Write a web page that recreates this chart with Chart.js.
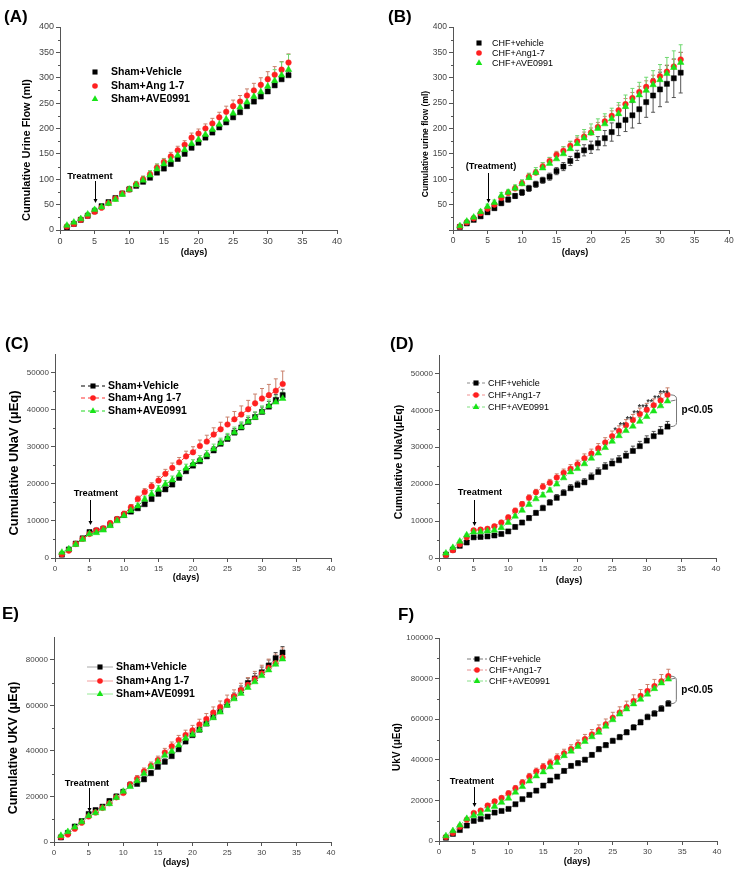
<!DOCTYPE html>
<html>
<head>
<meta charset="utf-8">
<script src="https://cdn.jsdelivr.net/npm/chart.js@4.4.1/dist/chart.umd.min.js"></script>
<style>
body { margin: 0; background: #fff; width: 740px; height: 872px; position: relative; overflow: hidden; font-family: 'Liberation Sans', Arial, sans-serif; }
.panel { position: absolute; }
.lbl { position: absolute; font-weight: bold; font-size: 17px; line-height: 17px; }
</style>
</head>
<body>
<div class="panel" style="left:0;top:0;width:370px;height:290px"><canvas id="chartA"></canvas></div>
<div class="panel" style="left:370px;top:0;width:370px;height:290px"><canvas id="chartB"></canvas></div>
<div class="panel" style="left:0;top:290px;width:370px;height:310px"><canvas id="chartC"></canvas></div>
<div class="panel" style="left:370px;top:290px;width:370px;height:310px"><canvas id="chartD"></canvas></div>
<div class="panel" style="left:0;top:600px;width:370px;height:272px"><canvas id="chartE"></canvas></div>
<div class="panel" style="left:370px;top:600px;width:370px;height:272px"><canvas id="chartF"></canvas></div>
<div class="lbl" style="left:4px;top:8px">(A)</div>
<div class="lbl" style="left:388px;top:8px">(B)</div>
<div class="lbl" style="left:5px;top:335px">(C)</div>
<div class="lbl" style="left:390px;top:335px">(D)</div>
<div class="lbl" style="left:2px;top:605px">E)</div>
<div class="lbl" style="left:398px;top:606px">F)</div>

<script>
// days of the protocol
const days = [1,2,3,4,5,6,7,8,9,10,11,12,13,14,15,16,17,18,19,20,21,22,23,24,25,26,27,28,29,30,31,32,33];

// tick labels
const xTicks = [0,5,10,15,20,25,30,35,40];
const yTicksFlow = [0,50,100,150,200,250,300,350,400];
const yTicksNa = [0,10000,20000,30000,40000,50000];
const yTicksShamK = [0,20000,40000,60000,80000];
const yTicksChfK = [0,20000,40000,60000,80000,100000];

// (A) cumulative urine flow, sham (ml)
const shamVehFlow = [5,12,20,28,37,47,55,63,72,80,87,95,103,113,121,130,140,150,162,172,182,192,202,212,222,232,244,253,263,273,285,297,305];
const shamAngFlow = [7,12,20,28,36,44,53,62,72,80,90,100,110,123,134,145,157,168,182,190,200,210,222,233,244,253,265,275,286,297,306,316,330];
const shamAveFlow = [9,15,22,31,40,45,52,60,70,80,89,98,108,120,130,138,147,158,170,178,188,198,208,218,230,242,252,263,272,283,294,305,316];
const errShamVehFlow = [1,1,2,2,2,2,2,3,3,3,3,3,3,4,4,4,4,4,5,5,5,5,5,5,6,6,6,6,6,7,7,7,7];
const errShamAngFlow = [1,1,2,2,3,3,3,4,4,5,5,6,6,7,7,8,8,8,9,9,9,10,10,11,12,12,13,14,14,15,16,16,17];
const errShamAveFlow = [2,2,3,3,4,4,4,5,5,6,7,8,9,10,10,10,10,10,10,11,11,11,12,12,13,14,15,16,17,19,22,26,30];

// (B) cumulative urine flow, CHF (ml)
const chfVehFlow = [6,13,20,27,35,43,53,60,67,74,82,90,98,105,116,125,136,147,157,163,171,181,193,206,217,226,238,252,265,277,288,299,310];
const chfAngFlow = [7,15,23,33,42,50,63,73,82,92,105,113,125,136,148,156,166,175,184,192,203,214,225,236,248,260,272,282,293,303,312,322,336];
const chfAveFlow = [8,17,25,36,46,54,68,74,82,91,103,113,122,131,140,150,160,170,181,191,200,209,219,229,243,255,266,275,286,296,308,320,330];
const errChfVehFlow = [2,2,3,3,4,4,5,5,5,6,6,6,6,7,7,8,9,10,11,12,13,15,18,20,23,25,28,30,33,34,36,38,40];
const errChfAngFlow = [2,2,3,3,4,4,5,5,5,6,6,6,7,7,7,8,8,8,9,9,9,10,10,10,11,11,11,12,12,13,13,14,14];
const errChfAveFlow = [2,3,3,4,5,5,6,6,7,8,9,10,11,12,13,14,15,16,17,18,19,20,21,22,23,24,25,26,28,30,32,33,35];

// (C) cumulative UNaV, sham (uEq)
const shamVehNa = [900,2300,3900,5300,7000,7400,7900,9000,10400,11600,12500,13400,14500,15900,17300,18500,19800,21600,23400,24900,26100,27400,29000,30800,32100,33800,35200,36700,38000,39400,40800,42600,43900];
const shamAngNa = [1000,2000,3800,5200,6500,7500,8000,9400,10500,11900,13700,15900,17800,19300,20900,22700,24300,25800,27400,28500,30200,31400,33300,34700,36000,37400,38700,40100,41700,43000,43900,45100,46900];
const shamAveNa = [1500,2400,3600,5000,6500,6800,7500,8700,10000,11400,12800,14000,15800,17200,18500,19900,21000,22500,24200,25300,26400,27800,29400,31000,32300,33900,35300,36800,37900,39400,41000,42000,43000];
const errShamVehNa = [200,200,300,300,400,400,400,500,500,500,600,600,600,600,700,700,700,800,800,800,900,900,1000,1000,1100,1100,1200,1200,1300,1300,1400,1500,1600];
const errShamAngNa = [200,300,300,400,400,500,500,600,600,700,700,800,900,1000,1100,1200,1300,1300,1400,1500,1600,1700,1800,1900,2000,2100,2300,2400,2500,2700,2900,3200,3500];
const errShamAveNa = [200,300,300,400,400,400,500,500,600,600,700,800,900,1000,1000,1000,1100,1100,1100,1200,1200,1200,1300,1300,1300,1400,1400,1500,1500,1600,1600,1700,1700];

// (D) cumulative UNaV, CHF (uEq)
const chfVehNa = [900,2250,3300,4200,5600,5700,5850,6100,6500,7200,8400,9600,10800,12200,13500,15000,16300,17600,18900,19800,20500,21900,23300,24700,25600,26500,27700,29000,30300,31800,33000,34200,35600];
const chfAngNa = [800,2100,3700,5600,7500,7700,7900,8600,9600,11000,12800,14600,16300,17800,19300,20400,21800,23100,24200,25400,27000,28300,29700,31300,33000,34400,36000,37400,39000,40200,41400,42700,44200];
const chfAveNa = [1300,2800,4500,6200,7000,7100,7300,7500,8200,9600,11300,12900,14500,16000,17000,18300,20000,21700,23300,24200,25500,27000,28400,29900,31600,33100,34500,35700,37000,38300,39800,41200,42500];
const errChfVehNa = [200,300,300,400,400,400,400,500,500,500,600,600,700,700,800,800,900,900,1000,1000,1000,1100,1100,1100,1200,1200,1200,1300,1300,1300,1300,1400,1400];
const errChfAngNa = [200,300,300,400,400,500,500,500,600,600,700,700,800,800,900,900,1000,1000,1100,1100,1200,1200,1300,1300,1400,1400,1500,1500,1600,1700,1700,1800,1900];
const errChfAveNa = [200,200,300,300,300,400,400,400,500,500,500,600,600,600,700,700,700,800,800,800,900,900,900,1000,1000,1000,1100,1100,1100,1200,1200,1200,1300];
const starDays = [25,26,27,28,29,30,31,32];
const starLabels = ['*','**','**','**','***','**','**','***'];

// (E) cumulative UKV, sham (uEq)
const shamVehK = [2000,4000,6800,9200,12300,14000,15500,18000,20000,22000,25000,25500,27500,30200,33000,35200,37700,40700,44100,46900,49300,52000,55000,57500,60300,63500,66500,69800,71800,74500,77500,80700,83200];
const shamAngK = [2200,3300,5800,8500,11200,13000,15000,17000,19600,21500,25200,27800,31000,33500,36000,39300,42000,44800,47000,49000,51600,54000,56800,59300,61800,64000,66700,69000,71500,74000,76500,78500,81000];
const shamAveK = [2800,4500,6500,8800,11500,12800,14800,16800,19500,22200,24300,26800,30000,33000,35300,38000,39800,42500,45500,47200,49200,51800,54500,57000,60000,62800,65200,67800,70300,73000,75500,78000,80300];
const errShamVehK = [300,400,500,600,700,800,800,900,1000,1000,1100,1100,1200,1200,1300,1300,1400,1400,1500,1500,1600,1600,1700,1700,1800,1900,2000,2100,2200,2300,2400,2500,2600];
const errShamAngK = [300,400,500,600,700,800,900,1000,1100,1200,1300,1400,1500,1600,1700,1800,1900,2000,2100,2200,2300,2400,2500,2600,2700,2800,3000,3200,3400,3600,3800,4000,4200];
const errShamAveK = [300,400,500,500,600,700,700,800,800,900,900,1000,1000,1000,1100,1100,1100,1200,1200,1200,1300,1300,1300,1400,1400,1400,1500,1500,1500,1600,1600,1600,1700];

// (F) UkV, CHF (uEq)
const chfVehK = [1600,3500,5400,7600,9900,10800,12000,14000,14800,15800,18100,20600,22700,24800,27300,29800,31700,34500,37000,38300,40000,42400,45200,47200,49300,51100,53500,55900,58400,61000,62700,65100,67600];
const chfAngK = [2000,4000,7000,10500,13800,15000,17500,19500,21200,23500,26000,28800,31800,34300,36500,38500,41000,43200,45300,47500,50200,52500,54700,57500,60700,63300,66000,69000,71500,73900,76300,78700,81200];
const chfAveK = [2500,5000,7800,11000,12500,13500,15500,17000,19000,21000,24000,26800,29500,32000,34000,36500,38600,42000,44200,46500,49000,51300,53500,56500,59700,62500,65000,67500,69800,72300,75000,77800,79700];
const errChfVehK = [300,400,400,500,500,600,600,700,700,800,800,900,900,1000,1000,1000,1100,1100,1100,1200,1200,1200,1300,1300,1300,1400,1400,1400,1500,1500,1500,1600,1600];
const errChfAngK = [300,400,500,600,700,800,900,1000,1100,1200,1300,1400,1500,1600,1700,1800,1900,2000,2100,2200,2300,2400,2500,2600,2700,2800,2900,3000,3100,3200,3300,3300,3400];
const errChfAveK = [300,400,500,500,600,600,700,700,800,800,900,900,1000,1000,1000,1100,1100,1100,1200,1200,1200,1300,1300,1300,1400,1400,1400,1500,1500,1500,1600,1600,1600];

const shamNames = ['Sham+Vehicle', 'Sham+Ang 1-7', 'Sham+AVE0991'];
const chfNames = ['CHF+vehicle', 'CHF+Ang1-7', 'CHF+AVE0991'];

Chart.defaults.font.family = "'Liberation Sans', Arial, sans-serif";

const STYLE = {
    veh: { pointStyle: 'rect', color: '#000000', radius: 3.6, err: '#555555', order: 2 },
    ang: { pointStyle: 'circle', color: '#ff2020', radius: 2.8, err: '#c9806c', order: 1 },
    ave: { pointStyle: 'triangle', color: '#18e418', radius: 3.8, err: '#70d870', order: 0 }
};
const KINDS = ['veh', 'ang', 'ave'];

function drawMarker(ctx, kind, x, y) {
    const s = STYLE[kind];
    ctx.fillStyle = s.color;
    ctx.beginPath();
    if (s.pointStyle === 'rect') {
        const h = s.radius * Math.SQRT1_2;
        ctx.rect(x - h, y - h, 2 * h, 2 * h);
    } else if (s.pointStyle === 'circle') {
        ctx.arc(x, y, s.radius, 0, Math.PI * 2);
    } else {
        let a = 0;
        ctx.moveTo(x + Math.sin(a) * s.radius, y - Math.cos(a) * s.radius);
        a += Math.PI * 2 / 3;
        ctx.lineTo(x + Math.sin(a) * s.radius, y - Math.cos(a) * s.radius);
        a += Math.PI * 2 / 3;
        ctx.lineTo(x + Math.sin(a) * s.radius, y - Math.cos(a) * s.radius);
        ctx.closePath();
    }
    ctx.fill();
}

// error bars, minor ticks, legend, titles and annotations
function makeDeco(p) {
    return {
        id: 'deco' + p.id,
        beforeDatasetsDraw(chart) {
            const ctx = chart.ctx, xs = chart.scales.x, ys = chart.scales.y;
            ctx.save();
            ctx.lineWidth = 1;
            chart.data.datasets.forEach((ds) => {
                ctx.strokeStyle = ds.errColor;
                ds.data.forEach((pt, j) => {
                    const x = xs.getPixelForValue(pt.x);
                    const y0 = ys.getPixelForValue(pt.y);
                    const yt = ys.getPixelForValue(pt.y + ds.errors[j]);
                    const yb = ds.errBoth ? ys.getPixelForValue(pt.y - ds.errors[j]) : y0;
                    ctx.beginPath();
                    ctx.moveTo(x, yb); ctx.lineTo(x, yt);
                    ctx.moveTo(x - 2, yt); ctx.lineTo(x + 2, yt);
                    if (ds.errBoth) { ctx.moveTo(x - 2, yb); ctx.lineTo(x + 2, yb); }
                    ctx.stroke();
                });
            });
            ctx.restore();
        },
        afterDraw(chart) {
            const ctx = chart.ctx, xs = chart.scales.x, ys = chart.scales.y;
            const area = chart.chartArea;
            ctx.save();

            // minor y ticks, half way between labelled ones
            ctx.strokeStyle = '#555';
            ctx.lineWidth = 1;
            ctx.beginPath();
            for (let i = 0; i < p.yTicks.length; i++) {
                const v = p.yTicks[i] + (p.yTicks[1] - p.yTicks[0]) / 2;
                if (v >= p.yMax) break;
                const y = Math.round(ys.getPixelForValue(v)) + 0.5;
                ctx.moveTo(area.left - 2, y); ctx.lineTo(area.left, y);
            }
            ctx.stroke();

            // axis titles
            ctx.fillStyle = '#000';
            ctx.textAlign = 'center';
            ctx.textBaseline = 'middle';
            ctx.font = 'bold ' + p.xTitle.size + "px 'Liberation Sans', Arial";
            ctx.fillText('(days)', p.xTitle.x, p.xTitle.y);
            ctx.save();
            ctx.translate(p.yTitle.x, p.yTitle.y);
            ctx.rotate(-Math.PI / 2);
            ctx.font = 'bold ' + p.yTitle.size + "px 'Liberation Sans', Arial";
            ctx.fillText(p.yTitle.text, 0, 0);
            ctx.restore();

            // legend
            const lg = p.legend;
            ctx.textAlign = 'left';
            ctx.font = (lg.bold ? 'bold ' : '') + lg.size + "px 'Liberation Sans', Arial";
            KINDS.forEach((k, i) => {
                const y = lg.rows[i];
                if (lg.line) {
                    ctx.save();
                    ctx.strokeStyle = p.lineColors[i];
                    ctx.setLineDash(p.lineDash);
                    ctx.beginPath();
                    ctx.moveTo(lg.x1, y); ctx.lineTo(lg.x2, y);
                    ctx.stroke();
                    ctx.restore();
                }
                drawMarker(ctx, k, lg.mx, y);
                ctx.fillStyle = '#000';
                ctx.fillText(p.names[i], lg.tx, y + 0.5);
            });

            // treatment arrow
            const t = p.treat;
            const ax = Math.round(xs.getPixelForValue(5)) + 0.5;
            ctx.fillStyle = '#000';
            ctx.textAlign = 'center';
            ctx.font = 'bold ' + t.size + "px 'Liberation Sans', Arial";
            ctx.fillText(t.text, t.x, t.y);
            ctx.strokeStyle = '#000';
            ctx.beginPath();
            ctx.moveTo(ax, t.y1); ctx.lineTo(ax, t.y2 - 3);
            ctx.stroke();
            ctx.beginPath();
            ctx.moveTo(ax - 2, t.y2 - 4); ctx.lineTo(ax + 2, t.y2 - 4); ctx.lineTo(ax, t.y2);
            ctx.closePath();
            ctx.fill();

            // significance bracket
            if (p.bracket) {
                const b = p.bracket;
                const bx = xs.getPixelForValue(33) + b.dx;
                const yT = ys.getPixelForValue(b.top);
                const yM = ys.getPixelForValue(b.mid);
                const yB = ys.getPixelForValue(b.bottom);
                ctx.strokeStyle = '#777';
                ctx.beginPath();
                ctx.moveTo(bx - 6, yT);
                ctx.quadraticCurveTo(bx, yT, bx, yT + 4);
                ctx.lineTo(bx, yB - 4);
                ctx.quadraticCurveTo(bx, yB, bx - 6, yB);
                ctx.moveTo(bx - 6, yM);
                ctx.lineTo(bx - 1, yM - 1);
                ctx.stroke();
                ctx.fillStyle = '#000';
                ctx.textAlign = 'left';
                ctx.font = "bold 10px 'Liberation Sans', Arial";
                ctx.fillText('p<0.05', bx + 5, (yT + yB) / 2);
            }

            // stars
            if (p.stars) {
                const s = p.stars;
                ctx.fillStyle = '#333';
                ctx.textAlign = 'center';
                ctx.textBaseline = 'alphabetic';
                ctx.font = "bold 8.5px 'Liberation Sans', Arial";
                s.days.forEach((d, i) => {
                    const x = xs.getPixelForValue(d) + 3;
                    const y = ys.getPixelForValue(s.values[d - 1] + s.errors[d - 1]) + 2;
                    ctx.fillText(s.labels[i], x, y);
                });
            }
            ctx.restore();
        }
    };
}

function makePanel(p) {
    const datasets = p.series.map((vals, i) => {
        const k = KINDS[i], s = STYLE[k];
        return {
            label: p.names[i],
            data: vals.map((v, j) => ({ x: days[j], y: v })),
            errors: p.errors[i],
            errColor: s.err,
            errBoth: p.errBoth ? p.errBoth[i] : false,
            order: s.order,
            showLine: !!p.lineColors,
            borderColor: p.lineColors ? p.lineColors[i] : s.color,
            borderWidth: 1,
            borderDash: p.lineDash || [],
            pointStyle: s.pointStyle,
            pointRadius: s.radius,
            pointBackgroundColor: s.color,
            pointBorderColor: s.color,
            pointBorderWidth: 0.5,
            fill: false,
            tension: 0
        };
    });
    const tickFont = { size: p.tickSize };
    new Chart(document.getElementById(p.id), {
        type: 'line',
        data: { datasets },
        options: {
            responsive: true,
            maintainAspectRatio: false,
            animation: false,
            events: [],
            layout: { padding: p.pad },
            plugins: { legend: { display: false }, tooltip: { enabled: false } },
            scales: {
                x: {
                    type: 'linear', min: 0, max: 40,
                    afterBuildTicks: (sc) => { sc.ticks = xTicks.map((v) => ({ value: v })); },
                    ticks: { font: tickFont, color: '#444', padding: 2, maxRotation: 0, autoSkip: false },
                    grid: { drawOnChartArea: false, tickLength: 4, color: '#555' },
                    border: { color: '#555' },
                    afterFit: (sc) => { sc.height = 30; }
                },
                y: {
                    type: 'linear', min: 0, max: p.yMax,
                    afterBuildTicks: (sc) => { sc.ticks = p.yTicks.map((v) => ({ value: v })); },
                    ticks: {
                        font: tickFont, color: '#444', padding: 2, autoSkip: false,
                        callback: (v) => (p.hideZero && v === 0) ? '' : String(v)
                    },
                    grid: { drawOnChartArea: false, tickLength: 4, color: '#555' },
                    border: { color: '#555' },
                    afterFit: (sc) => { sc.width = 40; }
                }
            }
        },
        plugins: [makeDeco(p)]
    });
}

makePanel({
    id: 'chartA', names: shamNames,
    series: [shamVehFlow, shamAngFlow, shamAveFlow],
    errors: [errShamVehFlow, errShamAngFlow, errShamAveFlow],
    pad: { left: 20, right: 33, top: 27, bottom: 30 },
    yMax: 400, yTicks: yTicksFlow, tickSize: 9,
    yTitle: { text: 'Cumulative Urine Flow (ml)', x: 27, y: 150, size: 11 },
    xTitle: { x: 194, y: 253, size: 9 },
    legend: { bold: true, size: 10.5, mx: 95, tx: 111, rows: [72, 86, 99] },
    treat: { text: 'Treatment', x: 90, y: 176, y1: 181, y2: 203, size: 9.5 }
});

makePanel({
    id: 'chartB', names: chfNames,
    series: [chfVehFlow, chfAngFlow, chfAveFlow],
    errors: [errChfVehFlow, errChfAngFlow, errChfAveFlow],
    errBoth: [true, false, false],
    pad: { left: 43, right: 11, top: 27, bottom: 30 },
    yMax: 400, yTicks: yTicksFlow, tickSize: 8.5, hideZero: true,
    yTitle: { text: 'Cumulative urine flow (ml)', x: 56, y: 144, size: 8.5 },
    xTitle: { x: 205, y: 253, size: 9 },
    legend: { bold: false, size: 9, mx: 109, tx: 122, rows: [43, 53, 63] },
    treat: { text: '(Treatment)', x: 121, y: 166, y1: 173, y2: 203, size: 9.3 }
});

makePanel({
    id: 'chartC', names: shamNames,
    series: [shamVehNa, shamAngNa, shamAveNa],
    errors: [errShamVehNa, errShamAngNa, errShamAveNa],
    lineColors: ['#000000', '#ff3030', '#20d820'], lineDash: [4, 3],
    pad: { left: 15, right: 39, top: 64, bottom: 12 },
    yMax: 55000, yTicks: yTicksNa, tickSize: 8,
    yTitle: { text: 'Cumulative UNaV (\u03bcEq)', x: 14, y: 173, size: 13 },
    xTitle: { x: 186, y: 288, size: 9 },
    legend: { bold: true, size: 10.5, line: true, x1: 81, x2: 105, mx: 93, tx: 108, rows: [96, 108, 121] },
    treat: { text: 'Treatment', x: 96, y: 203, y1: 210, y2: 235, size: 9.3 }
});

makePanel({
    id: 'chartD', names: chfNames,
    series: [chfVehNa, chfAngNa, chfAveNa],
    errors: [errChfVehNa, errChfAngNa, errChfAveNa],
    lineColors: ['#8a8a8a', '#f09090', '#80e080'], lineDash: [3, 2],
    pad: { left: 29, right: 24, top: 65, bottom: 12 },
    yMax: 55000, yTicks: yTicksNa, tickSize: 8,
    yTitle: { text: 'Cumulative UNaV(\u03bcEq)', x: 29, y: 172, size: 10.5 },
    xTitle: { x: 199, y: 291, size: 9 },
    legend: { bold: false, size: 9, line: true, x1: 97, x2: 115, mx: 106, tx: 118, rows: [93, 105, 117] },
    treat: { text: 'Treatment', x: 110, y: 202, y1: 210, y2: 236, size: 9.3 },
    bracket: { dx: 9, top: chfAngNa[32], mid: chfAveNa[32], bottom: chfVehNa[32] },
    stars: { days: starDays, labels: starLabels, values: chfAngNa, errors: errChfAngNa }
});

makePanel({
    id: 'chartE', names: shamNames,
    series: [shamVehK, shamAngK, shamAveK],
    errors: [errShamVehK, errShamAngK, errShamAveK],
    lineColors: ['#a8a8a8', '#f3a0a0', '#98e898'], lineDash: [],
    pad: { left: 14, right: 39, top: 37, bottom: 0 },
    yMax: 90000, yTicks: yTicksShamK, tickSize: 8,
    yTitle: { text: 'Cumulative UKV (\u03bcEq)', x: 14, y: 148, size: 12.5 },
    xTitle: { x: 176, y: 263, size: 9 },
    legend: { bold: true, size: 10.5, line: true, x1: 87, x2: 113, mx: 100, tx: 116, rows: [67, 81, 94] },
    treat: { text: 'Treatment', x: 87, y: 183, y1: 188, y2: 212, size: 9.3 }
});

makePanel({
    id: 'chartF', names: chfNames,
    series: [chfVehK, chfAngK, chfAveK],
    errors: [errChfVehK, errChfAngK, errChfAveK],
    lineColors: ['#7a7a7a', '#e89090', '#88e088'], lineDash: [4, 2],
    pad: { left: 29, right: 23, top: 38, bottom: 1 },
    yMax: 100000, yTicks: yTicksChfK, tickSize: 8,
    yTitle: { text: 'UkV (\u03bcEq)', x: 27, y: 147, size: 10 },
    xTitle: { x: 207, y: 262, size: 9 },
    legend: { bold: false, size: 9, line: true, x1: 97, x2: 117, mx: 107, tx: 119, rows: [59, 70, 81] },
    treat: { text: 'Treatment', x: 102, y: 181, y1: 187, y2: 207, size: 9.3 },
    bracket: { dx: 8, top: chfAngK[32], mid: chfAveK[32], bottom: chfVehK[32] }
});
</script>
</body>
</html>
